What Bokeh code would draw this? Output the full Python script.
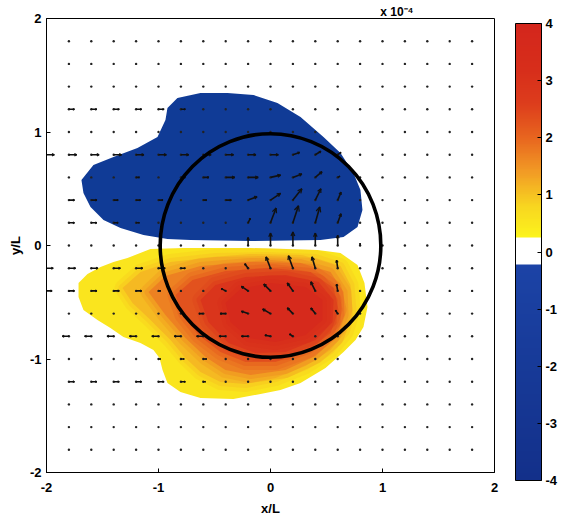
import numpy as np
from bokeh.plotting import figure
from bokeh.models import (LinearColorMapper, FixedTicker, Range1d, ColorBar, Title)
from bokeh.embed import file_html
from bokeh.resources import INLINE

# ---------------- data ----------------
# quiver grid (x/L, y/L)
grid_x = [-2.0, -1.8, -1.6, -1.4, -1.2, -1.0, -0.8, -0.6, -0.4, -0.2, 0.0,
          0.2, 0.4, 0.6, 0.8, 1.0, 1.2, 1.4, 1.6, 1.8, 2.0]
grid_y = [1.8, 1.6, 1.4, 1.2, 1.0, 0.8, 0.6, 0.4, 0.2, 0.0, -0.2, -0.4, -0.6,
          -0.8, -1.0, -1.2, -1.4, -1.6, -1.8]
# velocity components (in units of 0.01 L), rows follow grid_y, columns grid_x
U = [
    [0, 0, 0, 0, 0, 0, 0, 0, 0, 0, 0, 0, 0, 0, 0, 0, 0, 0, 0, 0, 0],
    [0, 0, 0, 0, 0, 0, 0, 0, 0, 0, 0, 0, 0, 0, 0, 0, 0, 0, 0, 0, 0],
    [0, 0, 0, 0, 0, 0, 0, 0, 0, 0, 0, 0, 0, 0, 0, 0, 0, 0, 0, 0, 0],
    [0, 5, 5, 5, 5, 5, 4, 0, 0, 0, 0, 0, 0, 0, 0, 0, 0, 0, 0, 0, 0],
    [0, 0, 0, 0, 0, 0, 0, 0, 0, 0, 0, 0, 0, 0, 0, 0, 0, 0, 0, 0, 0],
    [7, 7, 7, 7, 7, 7, 7, 7, 7, 7, 7, 6, 5, 3, 0, 0, 0, 0, 0, 0, 0],
    [0, 0, 0, 0, 3, 0, 4, 5, 8, 9, 9, 8, 6, 2, 0, 0, 0, 0, 0, 0, 0],
    [0, 5, 5, 4, 4, 4, 0, 3, 5, 8, 9, 8, 5, 3, 0, 0, 0, 0, 0, 0, 0],
    [0, 5, 5, 4, 3, 0, 0, 0, 0, 2, 5, 5, 4, 3, 0, 0, 0, 0, 0, 0, 0],
    [0, 0, 0, 0, 0, 0, 0, 0, 0, 0, 0, 0, 0, 0, 0, 0, 0, 0, 0, 0, 0],
    [6, 6, 6, 6, 6, 6, 4, 0, 0, -3, -4, -4, -3, -1, 0, 0, 0, 0, 0, 0, 0],
    [5, 5, 5, 5, 5, 2, 0, 0, -4, -6, -6, -5, -4, -1, 0, 0, 0, 0, 0, 0, 0],
    [0, 0, 0, 0, 0, 0, 0, -4, -5, -6, -7, -5, -4, -2, 0, 0, 0, 0, 0, 0, 0],
    [0, -6, -6, -6, -6, -6, -6, -6, -6, -6, -5, -3, 0, 0, 0, 0, 0, 0, 0, 0, 0],
    [0, 0, 0, 0, 0, 2, 3, 3, 0, 0, 0, 0, 0, 0, 0, 0, 0, 0, 0, 0, 0],
    [0, 5, 5, 5, 5, 5, 4, 2, 0, 0, 0, 0, 0, 0, 0, 0, 0, 0, 0, 0, 0],
    [0, 0, 0, 0, 0, 0, 0, 0, 0, 0, 0, 0, 0, 0, 0, 0, 0, 0, 0, 0, 0],
    [0, 0, 0, 0, 0, 0, 0, 0, 0, 0, 0, 0, 0, 0, 0, 0, 0, 0, 0, 0, 0],
    [0, 0, 0, 0, 0, 0, 0, 0, 0, 0, 0, 0, 0, 0, 0, 0, 0, 0, 0, 0, 0],
]
V = [
    [0, 0, 0, 0, 0, 0, 0, 0, 0, 0, 0, 0, 0, 0, 0, 0, 0, 0, 0, 0, 0],
    [0, 0, 0, 0, 0, 0, 0, 0, 0, 0, 0, 0, 0, 0, 0, 0, 0, 0, 0, 0, 0],
    [0, 0, 0, 0, 0, 0, 0, 0, 0, 0, 0, 0, 0, 0, 0, 0, 0, 0, 0, 0, 0],
    [0, 0, 0, 0, 0, 0, 0, 0, 0, 0, 0, 0, 0, 0, 0, 0, 0, 0, 0, 0, 0],
    [0, 0, 0, 0, 0, 0, 0, 0, 0, 0, 0, 0, 0, 0, 0, 0, 0, 0, 0, 0, 0],
    [0, 0, 0, 0, 0, 0, 0, 0, 0, 0, 0, 2, 3, 2, 0, 0, 0, 0, 0, 0, 0],
    [0, 0, 0, 0, 0, 0, 0, 0, 0, 0, 2, 3, 5, 1, 0, 0, 0, 0, 0, 0, 0],
    [0, 0, 0, 0, 0, 0, 0, 0, 0, 3, 6, 10, 10, 7, 0, 0, 0, 0, 0, 0, 0],
    [0, 0, 0, 0, 0, 0, 0, 0, 0, 4, 13, 15, 14, 8, 0, 0, 0, 0, 0, 0, 0],
    [0, 0, 0, 0, 0, 0, 0, 0, 0, 7, 11, 12, 11, 9, 2, 0, 0, 0, 0, 0, 0],
    [0, 0, 0, 0, 0, 0, 0, 0, 0, 4, 10, 11, 10, 7, 0, 0, 0, 0, 0, 0, 0],
    [0, 0, 0, 0, 0, 0, 0, 0, 2, 4, 6, 7, 8, 6, 0, 0, 0, 0, 0, 0, 0],
    [0, 0, 0, 0, 0, 0, 0, 0, 0, 2, 4, 5, 5, 3, 0, 0, 0, 0, 0, 0, 0],
    [0, 0, 0, 0, 0, 0, 0, 0, 0, 0, 1, 2, 0, 0, 0, 0, 0, 0, 0, 0, 0],
    [0, 0, 0, 0, 0, 0, 0, 0, 0, 0, 0, 0, 0, 0, 0, 0, 0, 0, 0, 0, 0],
    [0, 0, 0, 0, 0, 0, 0, 0, 0, 0, 0, 0, 0, 0, 0, 0, 0, 0, 0, 0, 0],
    [0, 0, 0, 0, 0, 0, 0, 0, 0, 0, 0, 0, 0, 0, 0, 0, 0, 0, 0, 0, 0],
    [0, 0, 0, 0, 0, 0, 0, 0, 0, 0, 0, 0, 0, 0, 0, 0, 0, 0, 0, 0, 0],
    [0, 0, 0, 0, 0, 0, 0, 0, 0, 0, 0, 0, 0, 0, 0, 0, 0, 0, 0, 0, 0],
]

# negative region (field below about -0.2e-4)
neg_x = [-1.688, -1.581, -1.402, -1.188, -1.009, -0.938, -0.920, -0.831, -0.625, -0.384,
         -0.152, 0.062, 0.268, 0.473, 0.625, 0.741, 0.803, 0.821, 0.777, 0.652, 0.446,
         -0.179, -0.714, -0.920, -1.134, -1.339, -1.491, -1.607, -1.670]
neg_y = [0.577, 0.709, 0.780, 0.859, 0.956, 1.106, 1.211, 1.300, 1.344, 1.344,
         1.326, 1.255, 1.132, 0.956, 0.815, 0.639, 0.489, 0.313, 0.163, 0.075, 0.048,
         0.040, 0.048, 0.057, 0.093, 0.154, 0.225, 0.339, 0.463]

# positive region: contour levels (x 1e-4) and their outlines
pos_levels = [0.25, 0.8, 1.4, 2.0, 2.6, 3.2]
pos_x = [
    [-1.277, -1.072, -0.777, -0.179, 0.420, 0.625, 0.777, 0.839, 0.866, 0.830, 0.759, 0.652,
     0.491, 0.268, 0.089, -0.089, -0.331, -0.625, -0.804, -0.920, -0.964, -0.991, -1.045,
     -1.161, -1.313, -1.429, -1.545, -1.670, -1.714, -1.714, -1.634, -1.518, -1.402],
    [-1.321, -1.161, -0.893, -0.491, -0.045, 0.402, 0.625, 0.714, 0.732, 0.670, 0.536, 0.313,
     0.045, -0.223, -0.446, -0.625, -0.759, -0.893, -1.071, -1.232],
    [-1.089, -0.938, -0.625, -0.179, 0.268, 0.536, 0.652, 0.661, 0.580, 0.402, 0.134, -0.179,
     -0.402, -0.580, -0.759, -0.938],
    [-0.848, -0.696, -0.402, 0.000, 0.357, 0.563, 0.607, 0.536, 0.339, 0.045, -0.223, -0.446,
     -0.643, -0.786],
    [-0.625, -0.491, -0.223, 0.134, 0.429, 0.563, 0.554, 0.402, 0.134, -0.134, -0.375, -0.554],
    [-0.402, -0.268, 0.000, 0.313, 0.464, 0.464, 0.313, 0.045, -0.196, -0.357],
]
pos_y = [
    [-0.110, -0.031, -0.022, -0.022, -0.040, -0.066, -0.172, -0.330, -0.542, -0.718, -0.833,
     -0.938, -1.079, -1.211, -1.273, -1.308, -1.352, -1.344, -1.291, -1.211, -1.097, -0.991,
     -0.921, -0.859, -0.806, -0.727, -0.656, -0.568, -0.454, -0.330, -0.251, -0.189, -0.145],
    [-0.374, -0.233, -0.145, -0.101, -0.093, -0.110, -0.181, -0.348, -0.568, -0.762, -0.921,
     -1.062, -1.167, -1.220, -1.203, -1.115, -0.991, -0.833, -0.656, -0.507],
    [-0.410, -0.269, -0.181, -0.145, -0.154, -0.233, -0.410, -0.612, -0.815, -0.974, -1.097,
     -1.141, -1.097, -0.982, -0.815, -0.612],
    [-0.436, -0.304, -0.225, -0.198, -0.233, -0.374, -0.568, -0.771, -0.921, -1.026, -1.026,
     -0.938, -0.789, -0.612],
    [-0.480, -0.348, -0.278, -0.260, -0.322, -0.480, -0.674, -0.833, -0.938, -0.947, -0.859,
     -0.674],
    [-0.507, -0.383, -0.330, -0.366, -0.480, -0.656, -0.789, -0.850, -0.815, -0.674],
]

circle_x, circle_y, circle_r = 0.0, 0.0, 0.985
cbar_ticks = [-4, -3, -2, -1, 0, 1, 2, 3, 4]
axis_ticks = [-2, -1, 0, 1, 2]
cbar_title = "x 10\u207b\u2074"

# ---------------- colour map (style) ----------------
STOPS = [(-4.0, "#13308a"), (-2.0, "#173a98"), (-0.21, "#1c43a6"), (-0.2099, "#ffffff"),
         (0.2399, "#ffffff"), (0.24, "#fcf51c"), (0.8, "#f8d620"), (1.4, "#f29c25"),
         (2.0, "#e8661f"), (2.6, "#dd3d1c"), (3.2, "#d72e1b"), (4.0, "#d4261c")]


def _rgb(h):
    return [int(h[i:i + 2], 16) for i in (1, 3, 5)]


def cmap(v):
    if v <= STOPS[0][0]:
        return STOPS[0][1]
    for (v0, c0), (v1, c1) in zip(STOPS[:-1], STOPS[1:]):
        if v0 <= v <= v1:
            t = (v - v0) / (v1 - v0)
            a, b = _rgb(c0), _rgb(c1)
            return "#%02x%02x%02x" % tuple(int(round(a[k] + (b[k] - a[k]) * t)) for k in range(3))
    return STOPS[-1][1]


palette = [cmap(v) for v in np.linspace(-4, 4, 256)]
mapper = LinearColorMapper(palette=palette, low=-4, high=4)

FONT = "Liberation Sans"

# ---------------- main plot ----------------
p = figure(width=579, height=520, output_backend="svg", toolbar_location=None,
           x_range=Range1d(-2, 2), y_range=Range1d(-2, 2),
           min_border_left=46, min_border_right=85, min_border_top=18, min_border_bottom=48)
p.grid.visible = False
p.outline_line_color = "black"
p.outline_line_width = 1
p.background_fill_color = "white"

# positive field: nested contour fills, soft edges between levels
upper = pos_levels[1:] + [4.0]
for i, (xs, ys) in enumerate(zip(pos_x, pos_y)):
    col = cmap(0.5 * (pos_levels[i] + upper[i]))
    if i == 0:
        p.patch(xs, ys, fill_color=col, line_color=None)
    else:
        p.patch(xs, ys, fill_color=None, line_color=col, line_width=16, line_alpha=0.22,
                line_join="round")
        p.patch(xs, ys, fill_color=None, line_color=col, line_width=8, line_alpha=0.35,
                line_join="round")
        p.patch(xs, ys, fill_color=col, line_color=None)

# negative field
p.patch(neg_x, neg_y, fill_color="#103b96", line_color=None)

# quiver: dots at every grid point, shafts and heads (head scaled to arrow length)
X, Y = np.meshgrid(np.array(grid_x), np.array(grid_y))
Ua = np.array(U, dtype=float) / 100.0
Va = np.array(V, dtype=float) / 100.0
dots = np.abs(X) <= 1.81
p.scatter(X[dots], Y[dots], size=2.4, color="#222222", line_color=None)
mask = (Ua != 0) | (Va != 0)
x0, y0, du, dv = X[mask], Y[mask], Ua[mask], Va[mask]
x1, y1 = x0 + du, y0 + dv
p.segment(x0, y0, x1, y1, line_color="#111111", line_width=1.6)
ang = np.arctan2(dv, du)
hl = 0.33 * np.hypot(du, dv)
for s in (+1, -1):
    a = ang + np.pi - s * 0.45
    p.segment(x1, y1, x1 + hl * np.cos(a), y1 + hl * np.sin(a), line_color="#111111",
              line_width=1.2)

# circle
p.ellipse(x=[circle_x], y=[circle_y], width=2 * circle_r, height=2 * circle_r,
          fill_color=None, line_color="black", line_width=3.6)

for ax in (p.xaxis[0], p.yaxis[0]):
    ax.ticker = FixedTicker(ticks=axis_ticks)
    ax.major_label_overrides = {t: str(t) for t in axis_ticks}
    ax.minor_tick_line_color = None
    ax.major_tick_in = 4
    ax.major_tick_out = 0
    ax.axis_line_color = "black"
    ax.major_label_text_font = FONT
    ax.major_label_text_font_style = "bold"
    ax.major_label_text_font_size = "13px"
    ax.major_label_text_color = "black"
    ax.axis_label_text_font = FONT
    ax.axis_label_text_font_style = "bold"
    ax.axis_label_text_font_size = "13px"
    ax.axis_label_text_color = "black"
p.xaxis.axis_label = "x/L"
p.yaxis.axis_label = "y/L"
p.xaxis.major_label_standoff = 10
p.xaxis.axis_label_standoff = 6
p.yaxis.major_label_standoff = 5
p.yaxis.axis_label_standoff = 4

# ---------------- colour bar ----------------
cbar = ColorBar(color_mapper=mapper, location=(21, -8), width=26, height=457,
                padding=0, margin=0, ticker=FixedTicker(ticks=cbar_ticks),
                major_label_overrides={t: str(t) for t in cbar_ticks},
                major_tick_in=4, major_tick_out=0, major_tick_line_color="black",
                minor_tick_line_color=None, label_standoff=4,
                major_label_text_font=FONT, major_label_text_font_style="bold",
                major_label_text_font_size="13px", major_label_text_color="black",
                bar_line_color="black", bar_line_width=1, border_line_color=None,
                background_fill_color=None)
p.add_layout(cbar, "right")

# colour-bar scale factor, shown above the bar at the top right
p.add_layout(Title(text=cbar_title, align="right", offset=81, standoff=0,
                   text_font=FONT, text_font_size="12px", text_font_style="bold",
                   text_color="black"), "above")

open("out.html", "w").write(file_html(p, INLINE))
